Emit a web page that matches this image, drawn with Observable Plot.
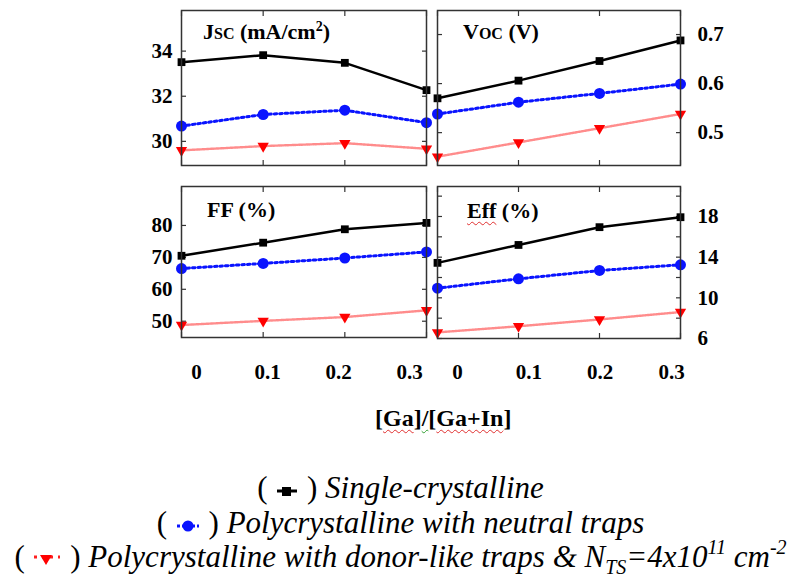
<!DOCTYPE html>
<html><head><meta charset="utf-8">
<script src="https://cdn.jsdelivr.net/npm/d3@7"></script>
<script src="https://cdn.jsdelivr.net/npm/@observablehq/plot@0.6"></script>
<style>
body{margin:0;background:#fff;}
#wrap{position:relative;width:809px;height:577px;overflow:hidden;font-family:"Liberation Serif","Times New Roman",serif;color:#000;}
.ttl{position:absolute;font-weight:bold;font-size:22px;line-height:20px;white-space:nowrap;}
.ttl .sm{font-size:16px;}
.ttl sup{font-size:14px;vertical-align:8px;line-height:0;}
.xl{position:absolute;left:375px;top:406px;font-weight:bold;font-size:24px;line-height:24px;white-space:nowrap;}
.wr{text-decoration:underline wavy #e03030;text-decoration-thickness:1px;text-underline-offset:3px;}
.wg{text-decoration:underline wavy #30a030;text-decoration-thickness:1px;text-underline-offset:3px;}
.leg{position:absolute;left:-4px;width:809px;text-align:center;font-size:31px;line-height:35px;white-space:nowrap;}
.leg i{font-style:italic;}
.leg svg{vertical-align:middle;}
.leg sub{font-size:20px;vertical-align:-7px;line-height:0;}
.leg sup{font-size:20px;vertical-align:13px;line-height:0;}
</style></head>
<body><div id="wrap"></div>
<script>
// ---- data ----
const ga = [0, 0.1, 0.2, 0.3];
const xTickLabels = ["0", "0.1", "0.2", "0.3"];
const seriesNames = ["Single-crystalline", "Polycrystalline with neutral traps", "Polycrystalline with donor-like traps"];

const jscSingle  = [33.51, 33.82, 33.48, 32.27];
const jscNeutral = [30.68, 31.19, 31.38, 30.83];
const jscDonor   = [29.60, 29.79, 29.92, 29.67];

const vocSingle  = [0.570, 0.606, 0.646, 0.688];
const vocNeutral = [0.538, 0.562, 0.580, 0.599];
const vocDonor   = [0.451, 0.480, 0.509, 0.538];

const ffSingle   = [70.5, 74.6, 78.8, 80.8];
const ffNeutral  = [66.5, 68.1, 69.8, 71.7];
const ffDonor    = [48.8, 50.1, 51.3, 53.4];

const effSingle  = [13.44, 15.20, 16.95, 17.93];
const effNeutral = [10.95, 11.87, 12.69, 13.25];
const effDonor   = [6.60, 7.20, 7.87, 8.60];

const jscTicks = [30, 32, 34];
const vocTicks = [0.5, 0.6, 0.7];
const ffTicks  = [50, 60, 70, 80];
const effTicks = [6, 10, 14, 18];
const effMinor = [6, 8, 10, 12, 14, 16, 18, 20];

// ---- drawing ----
const FONT = "'Liberation Serif','Times New Roman',serif";
const wrap = document.getElementById("wrap");
function place(el, left, top) {
  el.style.position = "absolute";
  el.style.left = left + "px";
  el.style.top = top + "px";
  wrap.appendChild(el);
}
const triDown = {
  draw(ctx, size) {
    const s = Math.sqrt(size * 4 / Math.sqrt(3));
    const h = s * Math.sqrt(3) / 2;
    ctx.moveTo(-s / 2, -h / 3);
    ctx.lineTo(s / 2, -h / 3);
    ctx.lineTo(0, 2 * h / 3);
    ctx.closePath();
  }
};
const table = vals => ga.map((g, i) => ({g, v: vals[i]}));

function panel({vals, yDomain, yTicks, yMinor, side, fl, ft, fw, fh}) {
  const ml = side === "left" ? 60 : 5, mr = side === "left" ? 5 : 60;
  const mt = 10, mb = 5;
  const [s, n, d] = vals.map(table);
  const tick = {tickSize: 5, fill: "none", label: null, stroke: "#333", strokeWidth: 1.2};
  const el = Plot.plot({
    width: fw + ml + mr, height: fh + mt + mb,
    marginLeft: ml, marginRight: mr, marginTop: mt, marginBottom: mb,
    x: {domain: [0, 0.3]},
    y: {domain: yDomain},
    style: {background: "transparent", overflow: "visible"},
    marks: [
      Plot.axisX(ga, {...tick, anchor: "top", dy: 5}),
      Plot.axisX(ga, {...tick, anchor: "bottom", dy: -5}),
      Plot.axisY(yMinor, {...tick, anchor: "left", dx: 5}),
      Plot.axisY(yMinor, {...tick, anchor: "right", dx: -5}),
      Plot.axisY(yTicks, {anchor: side, tickSize: 0, tickPadding: side === "left" ? 9 : 17, label: null,
        fontSize: 21, fontWeight: "bold", fontFamily: FONT, fill: "#000", tickFormat: t => String(t)}),
      Plot.line(d, {x: "g", y: "v", stroke: "#ff8c8c", strokeWidth: 2.4, strokeDasharray: "1,1"}),
      Plot.line(n, {x: "g", y: "v", stroke: "#0a14ff", strokeWidth: 3, strokeDasharray: "2.5,3"}),
      Plot.line(s, {x: "g", y: "v", stroke: "#000", strokeWidth: 2.5}),
      Plot.dot(d, {x: "g", y: "v", symbol: triDown, r: 4.2, fill: "#ff0000", stroke: "none"}),
      Plot.dot(n, {x: "g", y: "v", symbol: "circle", r: 5.5, fill: "#0a14ff", stroke: "none"}),
      Plot.dot(s, {x: "g", y: "v", symbol: "square", r: 4.4, fill: "#000", stroke: "none"}),
      Plot.frame({stroke: "#333", strokeWidth: 1.5})
    ]
  });
  place(el, fl - ml, ft - mt);
}

function xLabelRow(left, x0, x1, frameBottom) {
  const ml = x0 - left, mr = 40;
  const el = Plot.plot({
    width: ml + (x1 - x0) + mr, height: 50,
    marginLeft: ml, marginRight: mr, marginTop: 5, marginBottom: 40,
    x: {domain: [0, 0.3]},
    style: {background: "transparent", overflow: "visible"},
    marks: [
      Plot.axisX(ga, {anchor: "bottom", tickSize: 0, tickPadding: 27, label: null,
        fontSize: 21, fontWeight: "bold", fontFamily: FONT, fill: "#000",
        tickFormat: (t, i) => xTickLabels[i]})
    ]
  });
  place(el, left, frameBottom - 10);
}

panel({vals: [jscSingle, jscNeutral, jscDonor], yDomain: [28.93, 35.8], yTicks: jscTicks, yMinor: jscTicks,
  side: "left", fl: 181, ft: 10, fw: 245, fh: 155});
panel({vals: [vocSingle, vocNeutral, vocDonor], yDomain: [0.433, 0.749], yTicks: vocTicks, yMinor: vocTicks,
  side: "right", fl: 437, ft: 10, fw: 243, fh: 155});
panel({vals: [ffSingle, ffNeutral, ffDonor], yDomain: [44.9, 92.2], yTicks: ffTicks, yMinor: ffTicks,
  side: "left", fl: 181, ft: 186, fw: 245, fh: 151});
panel({vals: [effSingle, effNeutral, effDonor], yDomain: [6, 20.95], yTicks: effTicks, yMinor: effMinor,
  side: "right", fl: 437, ft: 186, fw: 243, fh: 152});

xLabelRow(150, 196, 409, 337);
xLabelRow(411, 457, 671, 337);

// ---- titles, axis label, legend ----
const html = `
<div class="ttl" style="left:203px;top:22px">J<span class="sm">SC</span> (mA/cm<sup>2</sup>)</div>
<div class="ttl" style="left:463px;top:22px">V<span class="sm">OC</span> (V)</div>
<div class="ttl" style="left:207px;top:200px">FF (%)</div>
<div class="ttl" style="left:467px;top:201px"><span class="wr">Eff</span> (%)</div>
<div class="xl">[<span class="wr">Ga</span>]<span class="wg">/</span>[<span class="wr">Ga+In</span>]</div>
<div class="leg" style="top:470px">( <svg width="24" height="16"><line x1="2" x2="22" y1="8" y2="8" stroke="#000" stroke-width="3"/><rect x="7" y="4" width="9" height="9" fill="#000"/></svg> ) <i>${seriesNames[0]}</i></div>
<div class="leg" style="top:505px">( <svg width="26" height="16"><line x1="2" x2="24" y1="8" y2="8" stroke="#0a14ff" stroke-width="3" stroke-dasharray="3,2"/><circle cx="13" cy="8" r="5.5" fill="#0a14ff"/></svg> ) <i>${seriesNames[1]}</i></div>
<div class="leg" style="top:539px">( <svg width="30" height="18"><line x1="2" x2="28" y1="6" y2="6" stroke="#ff2020" stroke-width="3" stroke-dasharray="3,5"/><path d="M8,4 L20,4 L14,14 Z" fill="#ff0000"/></svg> ) <i>${seriesNames[2]} &amp; N<sub>TS</sub>=4x10<sup>11</sup> cm<sup>-2</sup></i></div>
`;
wrap.insertAdjacentHTML("beforeend", html);
</script>
</body></html>
